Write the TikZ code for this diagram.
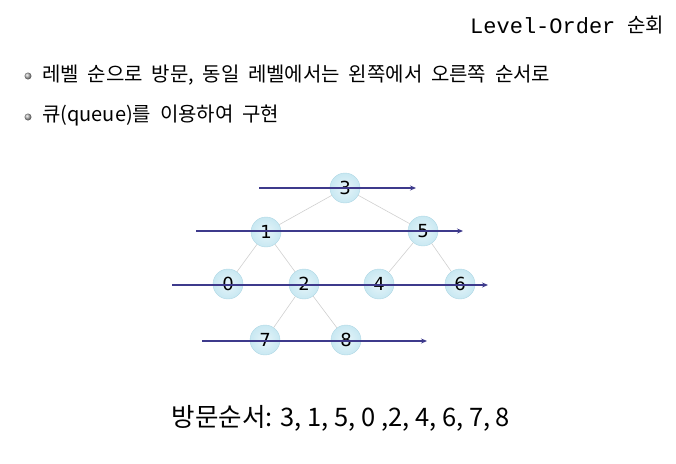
\documentclass[tikz,border=0pt]{standalone}
\usepackage{fontspec}
\setmainfont{Noto Sans CJK KR}
\newfontfamily\titlemono{Liberation Mono}
\newfontfamily\kor{Noto Sans CJK KR}
\newfontfamily\numfont{DejaVu Sans}
\newcommand\widegaps{\spaceskip=8.7pt\relax}
\usetikzlibrary{positioning,arrows.meta}
\definecolor{sweepblue}{RGB}{62,58,140}
\definecolor{ballfill}{RGB}{200,232,242}
\definecolor{ballrim}{RGB}{175,215,228}
\definecolor{linkgray}{RGB}{208,208,208}
\tikzset{
  treenode/.style={circle,minimum size=30pt,inner sep=0pt,draw=ballrim,
    inner color=white!55!ballfill,outer color=ballfill,font=\numfont\fontsize{18}{18}\selectfont},
  link/.style={draw=linkgray,line width=0.6pt},
  sweep/.style={draw=sweepblue,line width=1.1pt,-{Stealth[length=6pt,width=5pt]}},
  bulletdot/.style={circle,inner sep=0pt,minimum size=7pt,ball color=gray!60},
  itemtext/.style={anchor=west,inner sep=0pt,font=\kor\fontsize{20}{20}\selectfont\widegaps}
}
\begin{document}
\begin{tikzpicture}[x=1pt,y=-1pt]
\useasboundingbox (0,0) rectangle (676,463);
%\draw[step=50,black,very thin] (0,0) grid (676,463);
\node[anchor=west,inner sep=0pt] (title) at (470,26) {\fontsize{22}{22}\selectfont\titlemono Level-Order};
\node[anchor=east,inner sep=0pt] (titlekr) at (664,25) {\fontsize{20}{20}\selectfont\kor 순회};
\node[bulletdot] (b1) at (28,76) {};
\node[itemtext] (item1) at (42,75) {레벨 순으로 방문, 동일 레벨에서는 왼쪽에서 오른쪽 순서로};
\node[bulletdot] (b2) at (28,117) {};
\node[itemtext] (item2) at (42,116) {큐(queue)를 이용하여 구현};

\node[treenode] (n3) at (345,188) {3};
\node[treenode] (n1) at (266,232) {1};
\node[treenode] (n5) at (423,231) {5};
\node[treenode] (n0) at (228,284) {0};
\node[treenode] (n2) at (304,284) {2};
\node[treenode] (n4) at (379,284) {4};
\node[treenode] (n6) at (460,284) {6};
\node[treenode] (n7) at (265,340) {7};
\node[treenode] (n8) at (346,340) {8};

\draw[link] (n3)--(n1);
\draw[link] (n3)--(n5);
\draw[link] (n1)--(n0);
\draw[link] (n1)--(n2);
\draw[link] (n5)--(n4);
\draw[link] (n5)--(n6);
\draw[link] (n2)--(n7);
\draw[link] (n2)--(n8);

\coordinate (s0) at (259,188);
\coordinate (e0) at (416,188);
\coordinate (s1) at (196,231);
\coordinate (e1) at (463,231);
\coordinate (s2) at (172,285);
\coordinate (e2) at (488,285);
\coordinate (s3) at (202,341);
\coordinate (e3) at (427,341);
\draw[sweep] (s0)--(e0);
\draw[sweep] (s1)--(e1);
\draw[sweep] (s2)--(e2);
\draw[sweep] (s3)--(e3);

\node (order) at (341,418) {\fontsize{25.5}{25.5}\selectfont 방문순서: 3, 1, 5, 0 ,2, 4, 6, 7, 8};
\end{tikzpicture}
\end{document}
